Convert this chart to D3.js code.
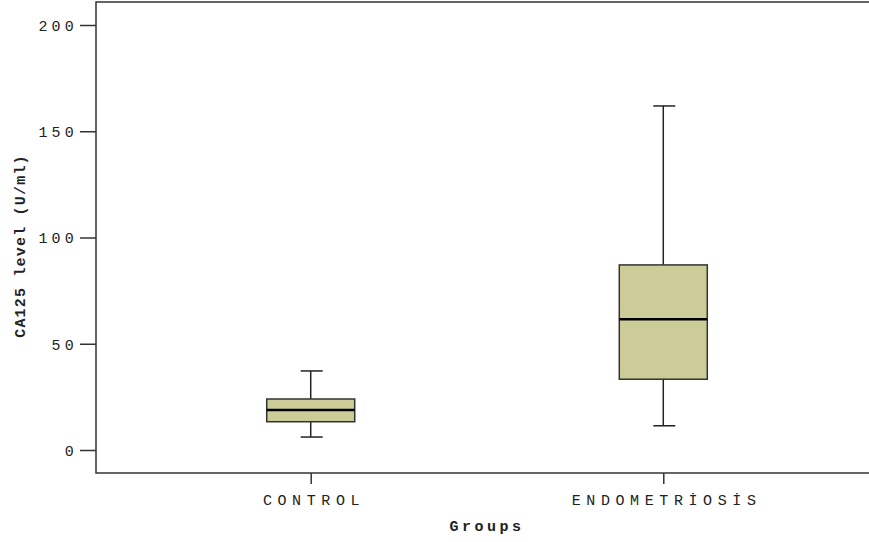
<!DOCTYPE html>
<html>
<head>
<meta charset="utf-8">
<script src="https://cdn.jsdelivr.net/npm/d3@7"></script>
<style>
  html, body { margin: 0; padding: 0; background: #fff; }
  svg text { font-family: "Liberation Mono", "DejaVu Sans Mono", monospace; fill: #222; }
</style>
</head>
<body>
<svg id="chart" width="869" height="542"></svg>
<script>
// CA125 level by group: five-number summaries for each box
const groups = ["CONTROL", "ENDOMETRİOSİS"];
const whiskerLow  = [6.1, 11.4];
const q1          = [13.3, 33.3];
const median      = [18.8, 61.5];
const q3          = [24.0, 87.1];
const whiskerHigh = [37.2, 161.9];
const yTicks = [0, 50, 100, 150, 200];

const svg = d3.select("#chart");
const plotLeft = 96, plotRight = 878, plotTop = 2, plotBottom = 473;

const x = d3.scalePoint().domain(groups).range([plotLeft, plotRight]).padding(0.609);
const y = d3.scaleLinear().domain([0, 200]).range([450, 25]);

const boxW = 88, capW = 22;
const axisColor = "#333";

// frame
svg.append("path")
  .attr("d", `M${plotRight},${plotTop}H${plotLeft}V${plotBottom}H${plotRight}`)
  .attr("fill", "none").attr("stroke", axisColor).attr("stroke-width", 1.5);

// y axis
const yAxis = d3.axisLeft(y).tickValues(yTicks).tickSize(16).tickPadding(2);
const gy = svg.append("g").attr("transform", `translate(${plotLeft},0)`).call(yAxis);
gy.select(".domain").remove();
gy.selectAll(".tick line").attr("stroke", axisColor).attr("stroke-width", 1.5);
gy.selectAll(".tick text")
  .attr("font-size", 15).attr("letter-spacing", 4.2)
  .attr("font-family", "Liberation Mono").attr("fill", "#333")
  .attr("dy", "0.35em");

// x axis
const xAxis = d3.axisBottom(x).tickSize(11).tickPadding(10);
const gx = svg.append("g").attr("transform", `translate(0,${plotBottom})`).call(xAxis);
gx.select(".domain").remove();
gx.selectAll(".tick line").attr("stroke", axisColor).attr("stroke-width", 1.5);
gx.selectAll(".tick text")
  .attr("font-size", 15).attr("letter-spacing", 5.6).attr("dx", 2.8)
  .attr("font-family", "Liberation Mono").attr("fill", "#222");

// boxes
const data = groups.map((g, i) => ({
  g, lo: whiskerLow[i], q1: q1[i], med: median[i], q3: q3[i], hi: whiskerHigh[i]
}));

const box = svg.append("g").selectAll("g").data(data).join("g")
  .attr("transform", d => `translate(${x(d.g)},0)`);

box.append("line")
  .attr("x1", 0).attr("x2", 0)
  .attr("y1", d => y(d.hi)).attr("y2", d => y(d.q3))
  .attr("stroke", "#222").attr("stroke-width", 1.5);
box.append("line")
  .attr("x1", 0).attr("x2", 0)
  .attr("y1", d => y(d.q1)).attr("y2", d => y(d.lo))
  .attr("stroke", "#222").attr("stroke-width", 1.5);
box.append("line")
  .attr("x1", -capW / 2 + 1).attr("x2", capW / 2 + 1)
  .attr("y1", d => y(d.hi)).attr("y2", d => y(d.hi))
  .attr("stroke", "#222").attr("stroke-width", 1.5);
box.append("line")
  .attr("x1", -capW / 2 + 1).attr("x2", capW / 2 + 1)
  .attr("y1", d => y(d.lo)).attr("y2", d => y(d.lo))
  .attr("stroke", "#222").attr("stroke-width", 1.5);
box.append("rect")
  .attr("x", -boxW / 2).attr("width", boxW)
  .attr("y", d => y(d.q3)).attr("height", d => y(d.q1) - y(d.q3))
  .attr("fill", "#cccc99").attr("stroke", "#333").attr("stroke-width", 1.5);
box.append("line")
  .attr("x1", -boxW / 2).attr("x2", boxW / 2)
  .attr("y1", d => y(d.med)).attr("y2", d => y(d.med))
  .attr("stroke", "#000").attr("stroke-width", 2.5);

// axis titles
svg.append("text")
  .attr("x", 487).attr("y", 531)
  .attr("text-anchor", "middle")
  .attr("font-size", 15).attr("font-weight", "bold").attr("letter-spacing", 3.5)
  .text("Groups");

svg.append("text")
  .attr("transform", "translate(25,246) rotate(-90)")
  .attr("text-anchor", "middle")
  .attr("font-size", 15).attr("font-weight", "bold").attr("letter-spacing", 1.2)
  .text("CA125 level (U/ml)");
</script>
</body>
</html>
